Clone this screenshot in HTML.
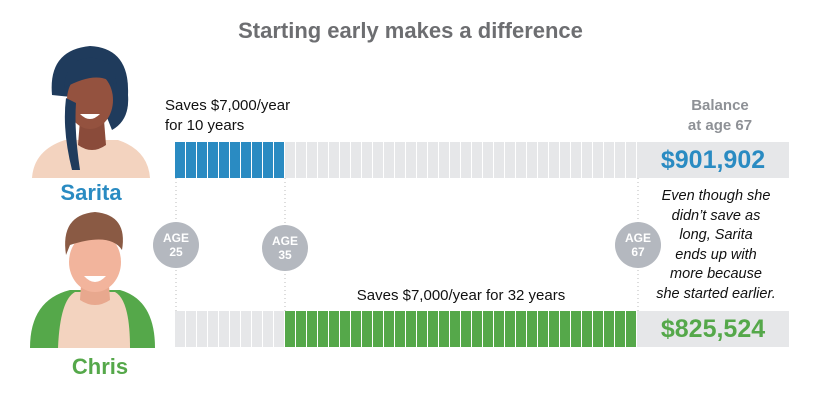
<!DOCTYPE html>
<html><head><meta charset="utf-8"><style>
body{margin:0;width:821px;height:400px;background:#fff;position:relative;overflow:hidden;font-family:"Liberation Sans",sans-serif}
.t{position:absolute;white-space:nowrap}
.bar{position:absolute;height:36px;display:flex}
.c{width:10px;margin-right:1px;height:36px;background:#e6e7e9}
.circ{position:absolute;width:46px;height:46px;border-radius:50%;background:#b4b8bf;color:#fff;font-weight:bold;font-size:12px;line-height:14px;text-align:center;display:flex;align-items:center;justify-content:center}
</style></head><body>
<div class="t" style="left:0;width:821px;text-align:center;top:18px;font-size:22px;font-weight:bold;color:#6d6e71">Starting early makes a difference</div>

<svg width="821" height="400" style="position:absolute;left:0;top:0">
<!-- Sarita -->
<path d="M52 95 Q48 50 90 46 Q130 48 128 95 Q130 120 112 130 L100 100 Z" fill="#1f3b5c"/>
<path d="M32 178 Q34 150 65 140 L118 140 Q148 150 150 178 Z" fill="#f3d3bf"/>
<path d="M80 120 L104 120 L106 145 Q92 155 78 145 Z" fill="#8a4b3a"/>
<ellipse cx="90" cy="100" rx="23" ry="29" fill="#94523f"/>
<path d="M64 88 Q66 56 94 58 Q118 62 116 86 Q100 68 64 88Z" fill="#1f3b5c"/>
<path d="M66 98 Q62 130 72 170 L80 170 Q74 130 76 103 Z" fill="#1f3b5c"/>
<path d="M80 114 Q90 124 100 114 Z" fill="#fff"/>
<!-- Chris -->
<path d="M30 348 Q30 300 70 290 L120 290 Q155 300 155 348 Z" fill="#55a84a"/>
<path d="M58 348 Q60 300 75 292 L115 292 Q130 300 130 348 Z" fill="#f3d3bf"/>
<path d="M82 270 L108 270 L110 300 Q95 310 80 300 Z" fill="#e8a88e"/>
<ellipse cx="95" cy="262" rx="26" ry="30" fill="#f2b49c"/>
<path d="M66 255 Q60 215 95 212 Q128 215 122 250 Q110 232 70 245 Z" fill="#8a5a44"/>
<path d="M84 276 Q95 288 106 276 Z" fill="#fff"/>
<line x1="176" y1="178" x2="176" y2="311" stroke="#bbb" stroke-dasharray="1,3"/>
<line x1="285" y1="178" x2="285" y2="311" stroke="#bbb" stroke-dasharray="1,3"/>
<line x1="638" y1="178" x2="638" y2="311" stroke="#bbb" stroke-dasharray="1,3"/>
</svg>

<div class="t" style="left:55px;top:180px;width:72px;text-align:center;font-size:22px;font-weight:bold;color:#2a8bc2">Sarita</div>
<div class="t" style="left:60px;top:354px;width:80px;text-align:center;font-size:22px;font-weight:bold;color:#55a84a">Chris</div>

<div class="t" style="left:165px;top:96px;font-size:15px;line-height:20px;color:#111">Saves $7,000/year<br>for 10 years</div>
<div class="t" style="left:660px;top:96px;width:120px;text-align:center;font-size:15px;line-height:20px;font-weight:bold;color:#8e9196">Balance<br>at age 67</div>

<div class="bar" style="left:175px;top:142px" id="b1"></div>
<div class="t" style="left:637px;top:142px;width:152px;height:36px;background:#e6e7e9;color:#2a8bc2;font-weight:bold;font-size:25px;line-height:36px;text-align:center">$901,902</div>

<div class="bar" style="left:175px;top:311px" id="b2"></div>
<div class="t" style="left:637px;top:311px;width:152px;height:36px;background:#e6e7e9;color:#55a84a;font-weight:bold;font-size:25px;line-height:36px;text-align:center">$825,524</div>

<div class="t" style="left:285px;top:287px;width:352px;text-align:center;font-size:15px;color:#111">Saves $7,000/year for 32 years</div>

<div class="t" style="left:650px;top:187px;width:132px;text-align:center;font-size:14.5px;line-height:19.5px;font-style:italic;color:#111">Even though she<br>didn’t save as<br>long, Sarita<br>ends up with<br>more because<br>she started earlier.</div>

<div class="circ" style="left:153px;top:222px">AGE<br>25</div>
<div class="circ" style="left:262px;top:225px">AGE<br>35</div>
<div class="circ" style="left:615px;top:222px">AGE<br>67</div>

<script>
var b1=document.getElementById('b1'),b2=document.getElementById('b2'),h1='',h2='';
for(var i=0;i<42;i++){h1+='<div class="c" style="background:'+(i<10?'#2a8bc2':'#e6e7e9')+'"></div>';h2+='<div class="c" style="background:'+(i>=10?'#55a84a':'#e6e7e9')+'"></div>';}
b1.innerHTML=h1;b2.innerHTML=h2;
</script>
</body></html>
